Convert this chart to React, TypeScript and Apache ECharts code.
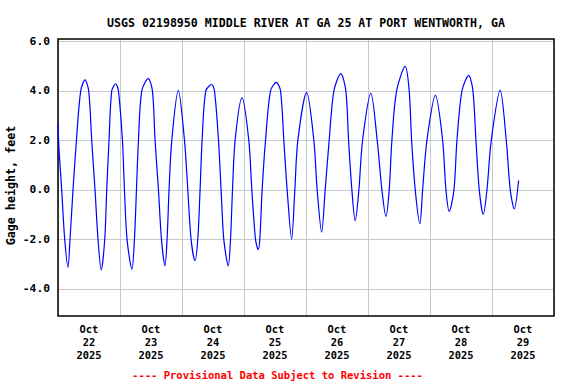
import React, { useEffect, useRef } from 'react';
import * as echarts from 'echarts';

const TITLE = 'USGS 02198950 MIDDLE RIVER AT GA 25 AT PORT WENTWORTH, GA';
const Y_NAME = 'Gage height, feet';
const FOOTER = '---- Provisional Data Subject to Revision ----';

const dayLabels = [
  'Oct\n22\n2025', 'Oct\n23\n2025', 'Oct\n24\n2025', 'Oct\n25\n2025',
  'Oct\n26\n2025', 'Oct\n27\n2025', 'Oct\n28\n2025', 'Oct\n29\n2025',
];

const yTickValues = [-4, -2, 0, 2, 4, 6];

// hours since 2025-10-22 00:00 (local)
const hoursSinceStart = [
  0, 0.39, 1.43, 2.6, 3.87, 4.65, 5.81, 7.13, 8.79, 10.46,
  11.89, 13.05, 14.33, 15.49, 16.73, 18.09, 18.86, 19.75, 20.8, 22.35,
  23.39, 24.94, 25.72, 26.73, 28.62, 29.59, 30.37, 31.14, 32.42, 34.94,
  36.56, 37.57, 38.89, 40.05, 41.41, 42.22, 42.99, 44.04, 46.56,
  48.96, 50.24, 51.52, 53.03, 54.11, 55.0, 55.78, 57.21, 59.53,
  60.58, 62.13, 63.13, 64.18, 65.92, 66.78, 67.55, 68.56, 71.23,
  73.86, 75.03, 76.46, 77.47, 78.12, 79.02, 80.33, 82.27, 84.52,
  86.14, 87.42, 88.7, 90.44, 91.68, 92.84, 96.25,
  99.04, 100.32, 102.06, 103.42, 104.97, 106.79, 109.5,
  111.43, 112.48, 113.76, 115.04, 116.47, 117.9, 121.12,
  123.56, 125.38, 126.93, 128.21, 129.25, 131.07, 134.4,
  135.95, 136.88, 138.28, 140.1, 141.14, 142.81, 146.1,
  148.89, 150.17, 151.45, 153.27, 154.43, 156.37, 159.0,
  160.62, 161.79, 163.07, 164.62, 166.05, 167.71, 171.16,
  173.52, 175.07, 176.62, 178.29,
];

const gageHeight = [
  2.68, 1.64, 0, -2, -3.13, -2, 0, 2, 4, 4.45,
  4, 2, 0, -2, -3.24, -2, 0, 2, 4, 4.29,
  4, 2, 0, -2, -3.21, -2, 0, 2, 4, 4.5,
  4, 2, 0, -2, -3.07, -2, 0, 2, 4.02,
  2, 0, -2, -2.86, -2, 0, 2, 4, 4.26,
  4, 2, 0, -2, -3.07, -2, 0, 2, 3.73,
  2, 0, -2, -2.42, -2, 0, 2, 4, 4.35,
  4, 2, 0, -1.99, 0, 2, 3.94,
  2, 0, -1.71, 0, 2, 4, 4.7,
  4, 2, 0, -1.25, 0, 2, 3.9,
  2, 0, -1.07, 0, 2, 4, 4.99,
  4, 2, 0, -1.37, 0, 2, 3.82,
  2, 0, -0.87, 0, 2, 4, 4.63,
  4, 2, 0, -0.99, 0, 2, 4.02,
  2, 0, -0.77, 0.38,
];

const START = new Date(2025, 9, 22, 0, 0, 0).getTime();
const END = new Date(2025, 9, 30, 0, 0, 0).getTime();

const FONT = '"DejaVu Sans Mono", monospace';

export default function App() {
  const ref = useRef<HTMLDivElement>(null);

  useEffect(() => {
    if (!ref.current) return;
    const chart = echarts.init(ref.current, undefined, { renderer: 'svg' });
    const data = hoursSinceStart.map((h, i) => [START + h * 3600 * 1000, gageHeight[i]]);

    chart.setOption({
      animation: false,
      title: {
        text: TITLE,
        left: 301,
        top: 12,
        textAlign: 'center',
        textStyle: { fontFamily: FONT, fontSize: 11.6, fontWeight: 'bold', color: '#000' },
      },
      grid: {
        left: 58,
        top: 39,
        right: 22,
        bottom: 68,
        containLabel: false,
        outerBoundsMode: 'none',
        show: true,
        z: 1,
        borderColor: '#000',
        borderWidth: 1.5,
        backgroundColor: 'transparent',
      },
      xAxis: [
        { type: 'time', min: START, max: END, show: false },
        {
          type: 'category',
          data: dayLabels,
          position: 'bottom',
          boundaryGap: true,
          axisLine: { show: false },
          axisTick: { show: false },
          splitLine: { show: true, lineStyle: { color: '#c8c8c8', width: 1 } },
          axisLabel: {
            margin: 7,
            fontFamily: FONT,
            fontSize: 10.4,
            fontWeight: 'bold',
            color: '#000',
            lineHeight: 12.7,
          },
        },
      ],
      yAxis: {
        type: 'value',
        min: -5.1,
        max: 6.1,
        axisLine: { show: false },
        axisTick: { show: false, customValues: yTickValues },
        axisLabel: {
          customValues: yTickValues,
          formatter: (v: number) => v.toFixed(1),
          margin: 8,
          fontFamily: FONT,
          fontSize: 11.3,
          fontWeight: 'bold',
          color: '#000',
        },
        splitLine: { show: true, lineStyle: { color: '#c8c8c8', width: 1 } },
        name: Y_NAME,
        nameLocation: 'middle',
        nameGap: 41,
        nameMoveOverlap: false,
        nameTextStyle: {
          fontFamily: FONT,
          fontSize: 11.7,
          fontWeight: 'bold',
          color: '#000',
          padding: [0, 16, 0, 0],
        },
      },
      series: [
        {
          type: 'line',
          xAxisIndex: 0,
          data,
          showSymbol: false,
          smooth: 0.3,
          lineStyle: { color: '#0000ff', width: 1.2 },
          z: 3,
        },
      ],
      graphic: [
        {
          type: 'text',
          x: 277.5,
          y: 375,
          style: {
            text: FOOTER,
            fill: '#ff0000',
            font: 'bold 10.5px "DejaVu Sans Mono", monospace',
            align: 'center',
            verticalAlign: 'middle',
          },
        },
      ],
    });

    return () => chart.dispose();
  }, []);

  return (
    <div
      ref={ref}
      style={{ position: 'absolute', left: 0, top: 0, width: 576, height: 384 }}
    />
  );
}
